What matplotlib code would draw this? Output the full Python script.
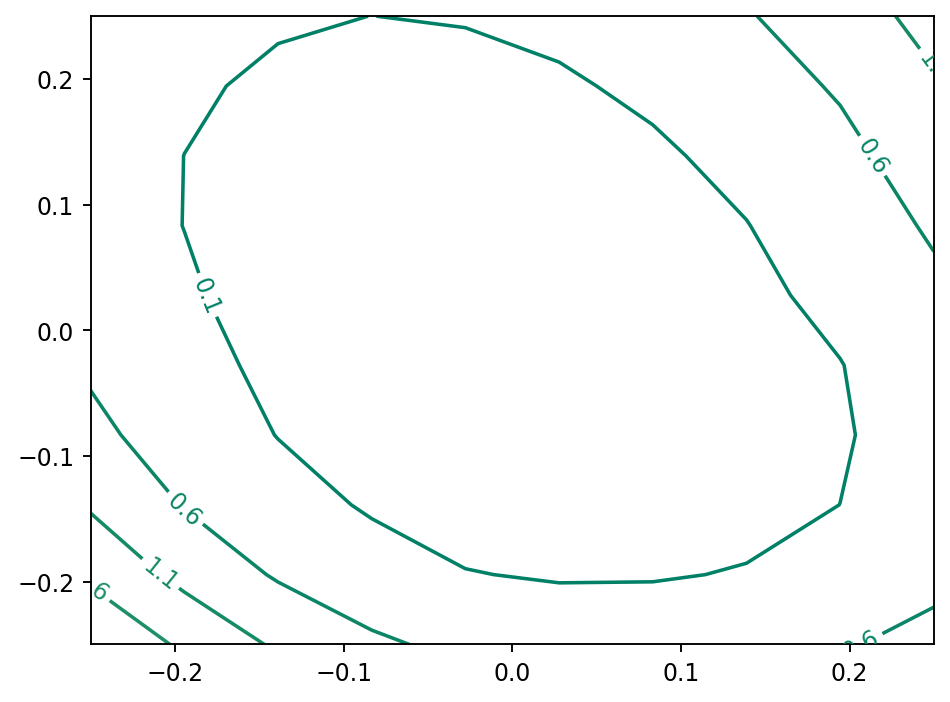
import numpy as np
import matplotlib.pyplot as plt

# grid (10 x 10) and values
x_vals = [-0.25, -0.1944, -0.1389, -0.0833, -0.0278, 0.0278, 0.0833, 0.1389, 0.1944, 0.25]
y_vals = [-0.25, -0.1944, -0.1389, -0.0833, -0.0278, 0.0278, 0.0833, 0.1389, 0.1944, 0.25]

# rows from y = -0.25 (bottom) up to y = 0.25 (top)
z_row0 = [2.047, 1.519, 1.029, 0.682, 0.478, 0.362, 0.335, 0.389, 0.559, 0.740]
z_row1 = [1.506, 0.960, 0.549, 0.282, 0.115, 0.065, 0.073, 0.121, 0.279, 0.478]
z_row2 = [1.045, 0.575, 0.261, 0.055, -0.062, -0.107, -0.084, -0.008, 0.101, 0.302]
z_row3 = [0.718, 0.353, 0.090, -0.082, -0.175, -0.201, -0.164, -0.072, 0.067, 0.269]
z_row4 = [0.533, 0.234, 0.006, -0.145, -0.222, -0.231, -0.176, -0.067, 0.089, 0.344]
z_row5 = [0.368, 0.142, -0.036, -0.158, -0.216, -0.210, -0.135, 0.009, 0.202, 0.498]
z_row6 = [0.260, 0.096, -0.036, -0.129, -0.171, -0.152, -0.065, 0.090, 0.330, 0.660]
z_row7 = [0.212, 0.099, 0.002, -0.069, -0.095, -0.063, 0.040, 0.210, 0.471, 0.845]
z_row8 = [0.204, 0.130, 0.063, 0.012, 0.004, 0.050, 0.175, 0.385, 0.649, 1.044]
z_row9 = [0.213, 0.165, 0.124, 0.099, 0.119, 0.196, 0.337, 0.565, 0.872, 1.257]

levels = [0.1, 0.6, 1.1, 1.6]

# where the inline labels sit
label_pos = [(-0.1813, 0.0278), (-0.1944, -0.1425), (-0.209, -0.1944), (-0.25, -0.204),
             (0.2135, 0.1389), (0.25, 0.209), (0.207, -0.25)]

Z = np.array([z_row0, z_row1, z_row2, z_row3, z_row4, z_row5, z_row6, z_row7, z_row8, z_row9])
X, Y = np.meshgrid(x_vals, y_vals)

fig, ax = plt.subplots(figsize=(6.4, 4.8), dpi=170)
cs = ax.contour(X, Y, Z, levels=levels, cmap='summer', vmin=0.1, vmax=12.6)
ax.clabel(cs, manual=label_pos, fontsize=10)
ax.set_xlim(-0.25, 0.25); ax.set_ylim(-0.25, 0.25)
fig.savefig('out.png', dpi=170, bbox_inches='tight')
